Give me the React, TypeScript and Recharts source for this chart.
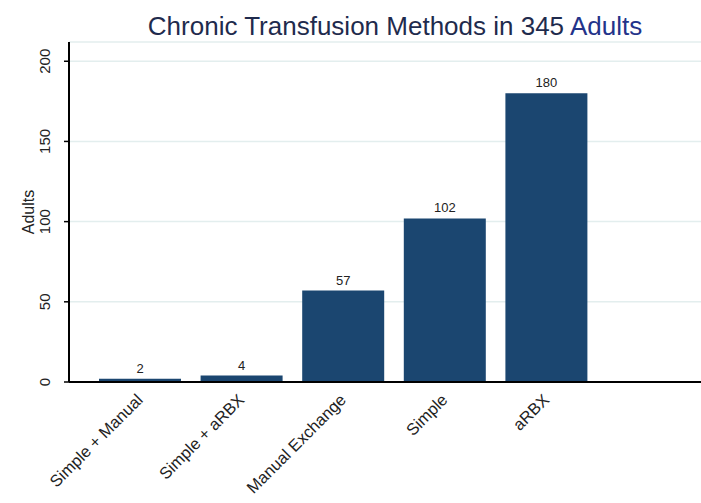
import { Bar, BarChart, CartesianGrid, LabelList, XAxis, YAxis } from "recharts";

const methods = ["Simple + Manual", "Simple + aRBX", "Manual Exchange", "Simple", "aRBX"];
const adults = [2, 4, 57, 102, 180];
const yTicks = [0, 50, 100, 150, 200];

const data = methods.map((m, i) => ({ method: m, adults: adults[i] }));

const FONT = "'Liberation Sans', Arial, sans-serif";

function YTick({ x, y, payload }: any) {
  const ax = x - 12;
  return (
    <text
      x={ax}
      y={y}
      transform={`rotate(-90, ${ax}, ${y})`}
      textAnchor="middle"
      fontSize={15}
      fontFamily={FONT}
      fill="#222"
    >
      {payload.value}
    </text>
  );
}

function XTick({ x, y, payload }: any) {
  const ax = x + 4;
  const ay = y + 11;
  return (
    <text
      x={ax}
      y={ay}
      transform={`rotate(-45, ${ax}, ${ay})`}
      textAnchor="end"
      fontSize={16.5}
      fontFamily={FONT}
      fill="#222"
    >
      {payload.value}
    </text>
  );
}

export default function App() {
  return (
    <div style={{ position: "absolute", left: 0, top: 0, width: 701, height: 503, background: "#fff" }}>
      <div
        style={{
          position: "absolute",
          left: 0,
          top: 12,
          width: 790,
          textAlign: "center",
          fontFamily: FONT,
          fontSize: 26,
          lineHeight: "29px",
          color: "#1f2b4d",
        }}
      >
        Chronic Transfusion Methods in 345 <span style={{ color: "#23338a" }}>Adults</span>
      </div>
      <BarChart
        width={701}
        height={503}
        data={data}
        margin={{ top: 42, right: 0, left: 0, bottom: 0 }}
        barSize={82}
      >
        <CartesianGrid vertical={false} stroke="#e3eeee" strokeWidth={1.5} />
        <XAxis
          dataKey="method"
          height={121}
          interval={0}
          padding={{ left: 20, right: 104 }}
          tick={<XTick />}
          tickLine={false}
          axisLine={{ stroke: "#000", strokeWidth: 2 }}
        />
        <YAxis
          width={69}
          domain={[0, 212]}
          ticks={yTicks}
          interval={0}
          tick={<YTick />}
          tickLine={{ stroke: "#000", strokeWidth: 1.5 }}
          tickSize={5}
          axisLine={{ stroke: "#000", strokeWidth: 2 }}
          label={{
            value: "Adults",
            angle: -90,
            position: "insideLeft",
            offset: 28,
            style: { fontSize: 16, fontFamily: FONT, fill: "#222", textAnchor: "middle" },
          }}
        />
        <Bar dataKey="adults" fill="#1b4670" isAnimationActive={false}>
          <LabelList
            dataKey="adults"
            position="top"
            offset={6}
            style={{ fontSize: 13, fontFamily: FONT, fill: "#222" }}
          />
        </Bar>
      </BarChart>
    </div>
  );
}
